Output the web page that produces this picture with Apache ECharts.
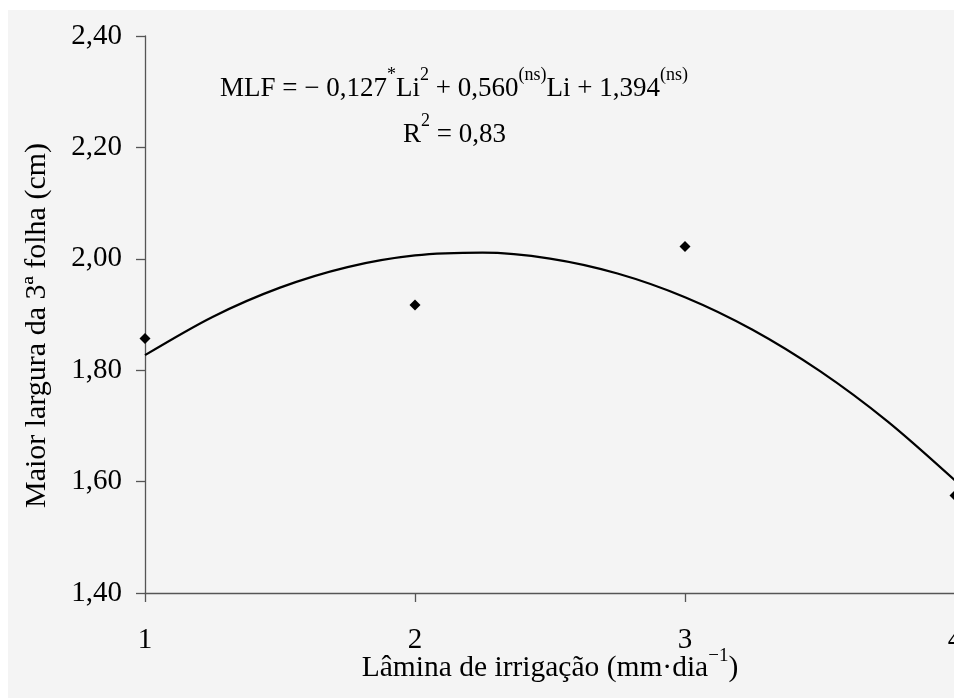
<!DOCTYPE html>
<html>
<head>
<meta charset="utf-8">
<script src="https://cdn.jsdelivr.net/npm/echarts@6/dist/echarts.min.js"></script>
<style>
html,body{margin:0;padding:0;background:#ffffff;}
#chart{width:954px;height:698px;}
</style>
</head>
<body>
<div id="chart"></div>
<script>
// Observed data (Lâmina de irrigação vs Maior largura da 3ª folha)
var laminaX = [1, 2, 3, 4];
var larguraY = [1.857, 1.917, 2.022, 1.575];
// Fitted curve
var curveX = [1, 1.25, 1.5, 1.75, 2, 2.25, 2.5, 2.75, 3, 3.25, 3.5, 3.75, 4];
var curveY = [1.8270, 1.8956, 1.9482, 1.9851, 2.0060, 2.0111, 2.0004, 1.9736, 1.9310, 1.8726, 1.7982, 1.7081, 1.6020];
var yTicks = ['1,40', '1,60', '1,80', '2,00', '2,20', '2,40'];
var xTicks = ['1', '2', '3', '4'];

var serif = '"Liberation Serif", "Times New Roman", serif';
var chart = echarts.init(document.getElementById('chart'), null, {renderer: 'canvas'});

function zip(a, b) { return a.map(function (v, i) { return [v, b[i]]; }); }

var eqRich = {
  t: {fontFamily: serif, fontSize: 27, color: '#000', lineHeight: 36, verticalAlign: 'bottom'},
  s: {fontFamily: serif, fontSize: 18, color: '#000', lineHeight: 36, verticalAlign: 'top'}
};

chart.setOption({
  backgroundColor: '#ffffff',
  animation: false,
  graphic: [
    {type: 'rect', z: -10, silent: true, shape: {x: 8, y: 10, width: 960, height: 700}, style: {fill: '#f4f4f4'}},
    {type: 'text', left: 220, top: 66, z: 10, style: {
      text: '{t|MLF = − 0,127}{s|*}{t|Li}{s|2}{t| + 0,560}{s|(ns)}{t|Li + 1,394}{s|(ns)}',
      rich: eqRich
    }},
    {type: 'text', left: 403, top: 112, z: 10, style: {
      text: '{t|R}{s|2}{t| = 0,83}',
      rich: eqRich
    }}
  ],
  grid: {left: 145, width: 810, top: 36, height: 557, containLabel: false, outerBoundsMode: 'none'},
  xAxis: {
    type: 'value', min: 1, max: 4, interval: 1,
    name: '{t|Lâmina de irrigação (mm·dia}{s|−1}{t|)}',
    nameLocation: 'middle', nameGap: 54, nameMoveOverlap: false,
    nameTextStyle: {rich: {
      t: {fontFamily: serif, fontSize: 29.5, color: '#000', lineHeight: 36, verticalAlign: 'bottom'},
      s: {fontFamily: serif, fontSize: 19, color: '#000', lineHeight: 36, verticalAlign: 'top'}
    }},
    axisLine: {show: true, lineStyle: {color: '#555', width: 1.3}},
    axisTick: {show: true, inside: false, length: 9, lineStyle: {color: '#555', width: 1.3}},
    axisLabel: {fontFamily: serif, fontSize: 29, color: '#000', margin: 33, showMaxLabel: true, showMinLabel: true,
      formatter: function (v) { return xTicks[Math.round(v) - 1]; }},
    splitLine: {show: false}
  },
  yAxis: {
    type: 'value', min: 1.4, max: 2.4, interval: 0.2,
    name: 'Maior largura da 3ª folha (cm)',
    nameLocation: 'middle', nameGap: 93, nameMoveOverlap: false,
    nameTextStyle: {fontFamily: serif, fontSize: 30, color: '#000', padding: [0, 22, 0, 0]},
    axisLine: {show: true, lineStyle: {color: '#555', width: 1.3}},
    axisTick: {show: true, inside: false, length: 9, lineStyle: {color: '#555', width: 1.3}},
    axisLabel: {fontFamily: serif, fontSize: 29, color: '#000', margin: 23,
      formatter: function (v) { return yTicks[Math.round((v - 1.4) / 0.2)]; }},
    splitLine: {show: false}
  },
  series: [
    {type: 'line', data: zip(curveX, curveY), smooth: 0.3, showSymbol: false, symbol: 'none', clip: false,
      lineStyle: {color: '#000', width: 2.2}, z: 2},
    {type: 'scatter', data: zip(laminaX, larguraY), symbol: 'diamond', symbolSize: 11, clip: false,
      itemStyle: {color: '#000', opacity: 1}, z: 3}
  ]
});
</script>
</body>
</html>
